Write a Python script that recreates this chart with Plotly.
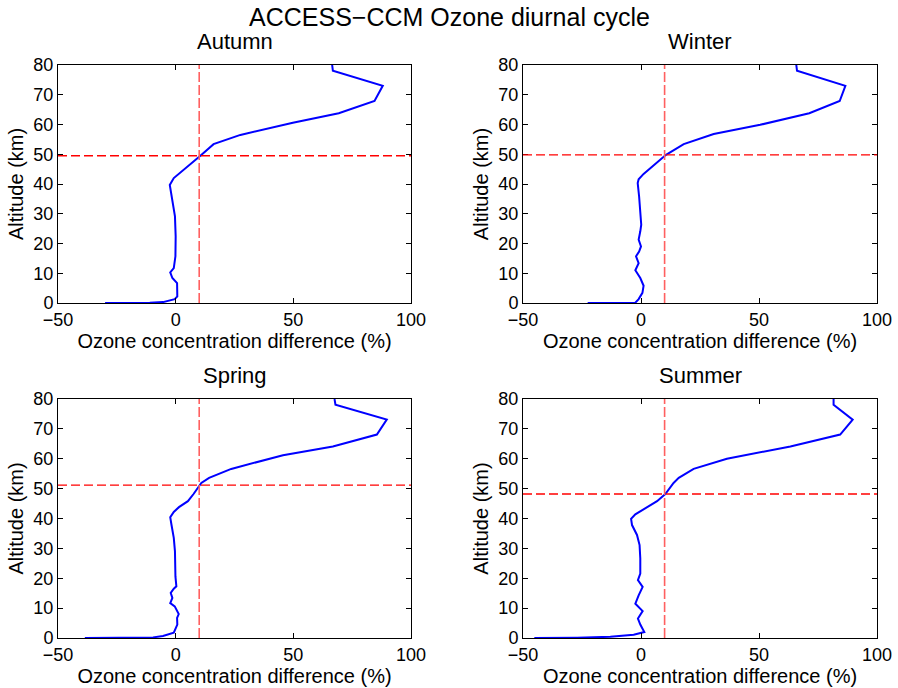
import plotly.graph_objects as go

# Data
seasons = ["Autumn", "Winter", "Spring", "Summer"]

autumn_diff = [66.5, 66.8, 88.0, 84.5, 69.3, 49.8, 27.5, 16.1, 10.5, 3.1, -0.8, -2.5, -2.1, -0.8, -0.3, 0.0, -0.1, -0.8, -2.3, -1.4, 0.6, 0.7, -0.4, -5.4, -11.0, -30.0]
autumn_alt = [80, 78.1, 73.0, 67.9, 63.8, 60.6, 56.5, 53.4, 49.5, 44.5, 42.0, 39.7, 38.0, 32.5, 29.1, 22.4, 15.7, 11.7, 10.3, 8.4, 6.7, 2.2, 1.3, 0.3, 0.05, 0.0]

winter_diff = [65.8, 66.1, 86.6, 84.2, 71.3, 50.5, 30.8, 18.1, 10.6, 1.1, -1.0, -1.4, -0.8, -0.3, 0.1, -0.3, -1.0, 0.0, -0.8, -2.1, -1.0, -2.4, -0.3, 1.1, 0.6, -1.0, -2.4, -22.6]
winter_alt = [80, 78.1, 73.0, 67.9, 63.8, 59.9, 56.8, 53.4, 49.8, 43.4, 41.6, 40.3, 35.8, 31.3, 26.3, 24.1, 21.3, 19.0, 17.3, 15.7, 13.4, 11.0, 8.4, 5.8, 3.4, 1.3, 0.1, 0.0]

spring_diff = [67.5, 67.9, 89.7, 85.5, 66.8, 45.6, 23.6, 14.2, 10.9, 9.5, 7.6, 5.2, 1.4, -0.8, -2.3, -1.8, -0.8, -0.3, -0.1, 0.3, -0.8, -2.1, -1.4, -2.3, -0.4, 1.3, 0.6, 0.7, -0.8, -5.4, -9.6, -38.6]
spring_alt = [80, 78.1, 73.1, 68.1, 64.1, 61.2, 56.6, 53.6, 51.9, 50.5, 48.2, 45.8, 43.8, 42.2, 40.4, 38.0, 33.5, 29.0, 20.6, 17.3, 16.5, 15.1, 13.4, 11.7, 10.6, 8.0, 6.7, 4.5, 1.8, 0.7, 0.2, 0.0]

summer_diff = [81.6, 81.6, 89.7, 84.4, 63.3, 36.4, 22.3, 16.0, 13.8, 10.3, 6.8, 1.1, -2.4, -4.2, -3.8, -1.7, -0.6, -0.3, -0.3, -1.3, 0.7, -1.0, -2.4, 0.7, -1.3, -0.3, 1.4, -3.1, -13.0, -27.1, -45.2]
summer_alt = [80, 78.1, 73.1, 68.1, 64.1, 60.0, 56.6, 53.6, 51.9, 48.2, 45.8, 42.9, 41.4, 39.9, 37.8, 34.5, 31.1, 26.6, 21.6, 19.4, 17.1, 14.3, 11.5, 9.0, 6.5, 4.5, 2.0, 1.1, 0.4, 0.1, 0.0]

crossing_alt = [49.5, 49.8, 51.2, 48.2]   # horizontal dashed line altitude
threshold_diff = 10                        # vertical dashed line

x_ticks = [-50, 0, 50, 100]
y_ticks = [0, 10, 20, 30, 40, 50, 60, 70, 80]

series = [(autumn_diff, autumn_alt), (winter_diff, winter_alt),
          (spring_diff, spring_alt), (summer_diff, summer_alt)]

W, H = 898, 688
boxes = [(58, 411, 65, 303), (523, 877, 65, 303),
         (58, 411, 399, 638), (523, 877, 399, 638)]

FONT = "Liberation Sans, Arial, Helvetica, sans-serif"
fig = go.Figure()
layout = dict(width=W, height=H, margin=dict(l=0, r=0, t=0, b=0, autoexpand=False),
              paper_bgcolor="white", plot_bgcolor="white", showlegend=False,
              font=dict(family=FONT, size=18, color="black"))
annotations = []
shapes = []

for i, (name, (xd, yd), (x0, x1, y0, y1)) in enumerate(zip(seasons, series, boxes)):
    n = "" if i == 0 else str(i + 1)
    xa, ya = "x" + n, "y" + n
    fig.add_trace(go.Scatter(x=xd, y=yd, mode="lines", xaxis=xa, yaxis=ya,
                             line=dict(color="#0000ff", width=2)))
    axcommon = dict(showgrid=False, zeroline=False, showline=True, linecolor="black",
                    linewidth=1, mirror="allticks", ticks="inside", ticklen=5,
                    tickcolor="black", tickfont=dict(size=18, family=FONT),
                    automargin=False)
    layout["xaxis" + n] = dict(domain=[x0 / W, x1 / W], anchor=ya, range=[-50, 100],
                               tickvals=x_ticks,
                               title=dict(text="Ozone concentration difference (%)",
                                          font=dict(size=20, family=FONT), standoff=0),
                               **axcommon)
    layout["yaxis" + n] = dict(domain=[1 - y1 / H, 1 - y0 / H], anchor=xa, range=[0, 80],
                               tickvals=y_ticks,
                               title=dict(text="Altitude (km)",
                                          font=dict(size=20, family=FONT), standoff=4),
                               **axcommon)
    # subplot title
    annotations.append(dict(text=name, x=(x0 + x1) / 2 / W, y=1 - (y0 - 24) / H,
                            xref="paper", yref="paper", xanchor="center", yanchor="middle",
                            showarrow=False, font=dict(size=22, family=FONT)))
    # dashed reference lines
    shapes.append(dict(type="line", xref=xa + " domain", yref=ya, x0=0, x1=1,
                       y0=crossing_alt[i], y1=crossing_alt[i],
                       line=dict(color="#ff0000", width=1.3, dash="9px,4px")))
    shapes.append(dict(type="line", xref=xa, yref=ya + " domain",
                       x0=threshold_diff, x1=threshold_diff, y0=0, y1=1,
                       line=dict(color="#ff6060", width=1.6, dash="10px,3px")))

annotations.append(dict(text="ACCESS\u2212CCM Ozone diurnal cycle", x=0.5, y=1 - 17 / H,
                        xref="paper", yref="paper", xanchor="center", yanchor="middle",
                        showarrow=False, font=dict(size=25, family=FONT)))
layout["annotations"] = annotations
layout["shapes"] = shapes
fig.update_layout(**layout)
fig.write_html("out.html")
